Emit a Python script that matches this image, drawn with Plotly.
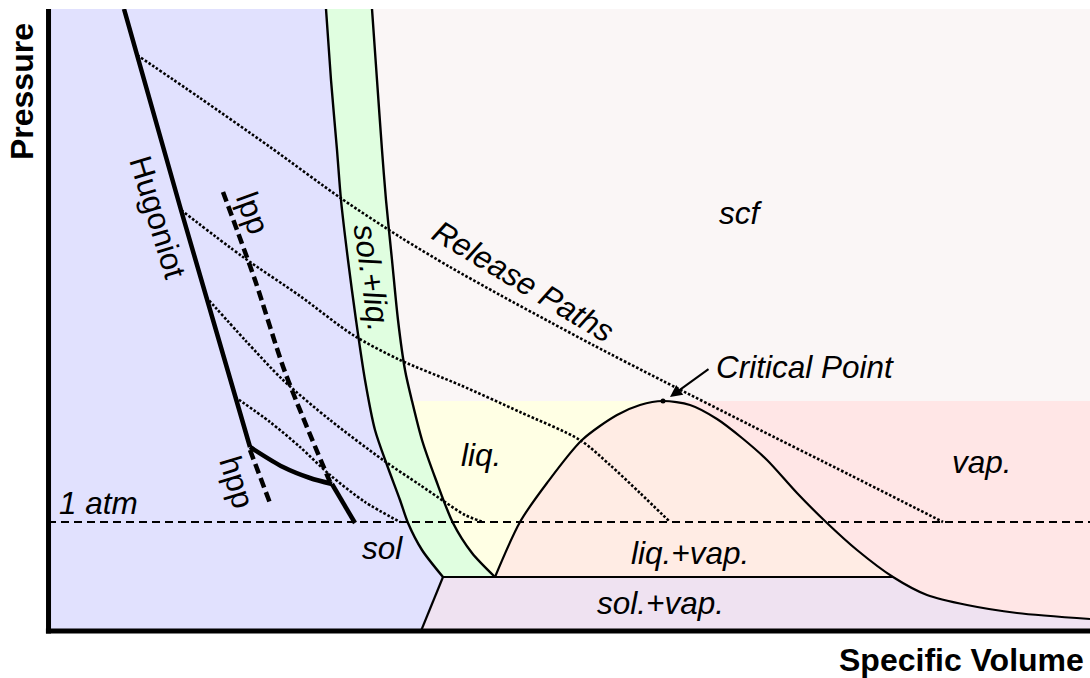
import plotly.graph_objects as go

# Schematic units: specific volume v (0..1042), pressure P (0..622)
V_MAX = 1042
P_MAX = 622

# solidus / liquidus band (sol.+liq.)
sl_left_v = [278, 283, 289, 293, 300, 308, 317, 327, 339, 352, 360, 374, 395]
sl_left_p = [622, 551, 481, 431, 371, 311, 251, 201, 166, 131, 108, 81, 54]
sl_right_v = [324, 329, 334, 338, 344, 350, 357, 364, 374, 388, 405, 424, 447]
sl_right_p = [622, 551, 481, 431, 371, 311, 261, 230, 191, 151, 108, 78, 54]

# liquid-vapour dome + sublimation curve
dome_v = [447, 472, 499, 534, 569, 592, 615, 642, 669, 694, 719, 749, 779, 809, 845, 879, 919, 969, 1042]
dome_p = [54, 109, 148, 191, 216, 226, 230, 226, 212, 193, 171, 138, 108, 81, 54, 36, 26, 18, 12]
crit_v, crit_p = 615, 230
triple_p = 54
triple_v_end = 845
solvap_v = [373, 395]
solvap_p = [0, 54]
atm_p = 109

# Hugoniot and its branches
hug_up_v = [76, 133, 202]
hug_up_p = [622, 421, 184]
hug_curve_v = [202, 235, 262, 284]
hug_curve_p = [184, 164, 153, 147]
hug_low_v = [284, 307]
hug_low_p = [147, 108]
hpp_v = [202, 222]
hpp_p = [181, 128]
lpp_v = [175, 207, 237, 282]
lpp_p = [439, 351, 259, 149]

# release paths
rel1_v = [89, 152, 222, 294, 352, 402, 452, 502, 545, 615, 702, 802, 895]
rel1_p = [576, 533, 484, 432, 394, 364, 336, 309, 286, 250, 206, 156, 109]
rel2_v = [133, 195, 252, 305, 352, 412, 472, 532, 562, 592, 622]
rel2_p = [421, 374, 335, 296, 271, 246, 219, 191, 166, 138, 109]
rel3_v = [158, 197, 235, 282, 335, 372, 397, 417, 435]
rel3_p = [334, 291, 251, 211, 171, 146, 129, 116, 109]
rel4_v = [187, 222, 252, 282, 317, 352]
rel4_p = [234, 209, 184, 156, 129, 109]

C_SOL = "#e1e1fe"
C_SL = "#e0fee0"
C_SCF = "#faf6f6"
C_LIQ = "#ffffe4"
C_VAP = "#ffe6e6"
C_LV = "#ffece4"
C_SV = "#efe2f1"

FONT = "Liberation Sans, Arial, sans-serif"

fig = go.Figure()
E = V_MAX + 10


def fill(xs, ys, color):
    fig.add_trace(go.Scatter(x=xs, y=ys, mode="lines", fill="toself", fillcolor=color,
                             line=dict(width=0, color=color), hoverinfo="skip", showlegend=False))


def line(xs, ys, width=2.2, dash="solid", shape="spline"):
    fig.add_trace(go.Scatter(x=xs, y=ys, mode="lines",
                             line=dict(color="black", width=width, dash=dash, shape=shape, smoothing=0.8),
                             hoverinfo="skip", showlegend=False))


# regions
fill(sl_left_v + [sl_left_v[-1], E, E], sl_left_p + [0, 0, P_MAX + 10], C_SL)
fill(sl_right_v + [E, E], sl_right_p + [triple_p, P_MAX + 10], C_SCF)
liq_idx = [i for i, p in enumerate(sl_right_p) if p <= crit_p]
fill([sl_right_v[i] for i in liq_idx] + [E, E],
     [sl_right_p[i] for i in liq_idx] + [triple_p, crit_p], C_LIQ)
ci = dome_v.index(crit_v)
fill(dome_v[ci:] + [E, E], dome_p[ci:] + [dome_p[-1], crit_p], C_VAP)
ti = dome_v.index(triple_v_end)
fill(dome_v[:ti + 1], dome_p[:ti + 1], C_LV)
fill(solvap_v + dome_v[ti:] + [E, E], solvap_p + dome_p[ti:] + [dome_p[-1], 0], C_SV)
# keep sol region below triple line blue
fill([sl_left_v[-1], solvap_v[0], -10, -10], [triple_p, 0, 0, triple_p], C_SOL)

# 1 atm line
line([0, V_MAX], [atm_p, atm_p], width=2, dash="8px,5px", shape="linear")

# release paths
for vs, ps in [(rel1_v, rel1_p), (rel2_v, rel2_p), (rel3_v, rel3_p), (rel4_v, rel4_p)]:
    line(vs, ps, width=2.6, dash="2.6px,1.9px")

# phase boundaries
line(sl_left_v, sl_left_p, width=2.4)
line(sl_right_v, sl_right_p, width=2.4)
line(dome_v, dome_p, width=2.2)
line([sl_left_v[-1], triple_v_end], [triple_p, triple_p], width=2.2, shape="linear")
line(solvap_v, solvap_p, width=2.2, shape="linear")

# Hugoniot
line(hug_up_v, hug_up_p, width=4.5)
line(hug_curve_v, hug_curve_p, width=4.5)
line(hug_low_v, hug_low_p, width=4.5, shape="linear")
line(hpp_v, hpp_p, width=4.5, dash="10px,5px", shape="linear")
line(lpp_v, lpp_p, width=4.5, dash="10px,5px")

# critical point
fig.add_trace(go.Scatter(x=[crit_v], y=[crit_p], mode="markers",
                         marker=dict(color="black", size=5), hoverinfo="skip", showlegend=False))

labels = [
    ("Hugoniot", 110, 414, 73, "normal"),
    ("lpp", 205, 418, 70, "normal"),
    ("hpp", 189, 149, 73, "normal"),
    ("sol.+liq.", 324, 353, 82, "italic"),
    ("Release Paths", 475, 350, 31, "italic"),
    ("scf", 693, 418, 0, "italic"),
    ("Critical Point", 757, 264, 0, "italic"),
    ("liq.", 433, 176, 0, "italic"),
    ("vap.", 934, 169, 0, "italic"),
    ("1 atm", 50, 128, 0, "italic"),
    ("liq.+vap.", 642, 78, 0, "italic"),
    ("sol.+vap.", 612, 28, 0, "italic"),
    ("sol", 334, 83, 0, "italic"),
]
anns = []
for t, x, y, a, st in labels:
    anns.append(dict(text=t, x=x, y=y, xref="x", yref="y", showarrow=False, textangle=a,
                     xanchor="center", yanchor="middle",
                     font=dict(family=FONT, size=31.5, color="black", style=st)))
anns.append(dict(text="", x=622, y=234, ax=662, ay=263, xref="x", yref="y", axref="x", ayref="y",
                 showarrow=True, arrowhead=2, arrowsize=1.2, arrowwidth=2, arrowcolor="black"))
anns.append(dict(text="<b>Specific Volume</b>", x=0.8767, y=-0.0772, xref="paper", yref="paper",
                 showarrow=False, xanchor="center", yanchor="bottom", borderpad=0,
                 font=dict(family=FONT, size=32, color="black")))
anns.append(dict(text="<b>Pressure</b>", x=-0.025, y=0.868, xref="paper", yref="paper",
                 showarrow=False, xanchor="center", yanchor="middle", textangle=-90,
                 font=dict(family=FONT, size=32, color="black")))

shapes = [
    dict(type="line", xref="paper", yref="paper", x0=0.0005, x1=0.0005, y0=-0.004, y1=1.0,
         line=dict(color="black", width=5)),
    dict(type="line", xref="paper", yref="paper", x0=-0.002, x1=1.0, y0=0, y1=0,
         line=dict(color="black", width=5)),
]

fig.update_layout(
    width=1090, height=678,
    margin=dict(l=48, r=0, t=9, b=47),
    paper_bgcolor="white", plot_bgcolor=C_SOL,
    xaxis=dict(range=[0, V_MAX], showgrid=False, zeroline=False, showticklabels=False, ticks="", fixedrange=True),
    yaxis=dict(range=[0, P_MAX], showgrid=False, zeroline=False, showticklabels=False, ticks="", fixedrange=True),
    annotations=anns, shapes=shapes, showlegend=False,
)

fig.write_html("out.html")
